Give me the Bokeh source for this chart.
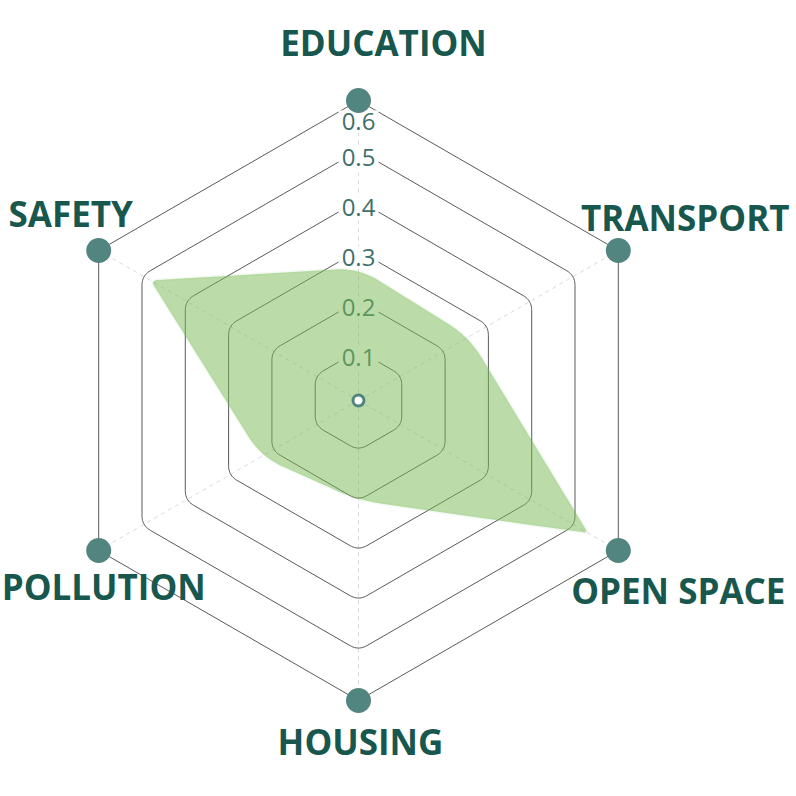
import numpy as np
from bokeh.plotting import figure
from bokeh.models import Range1d
from bokeh.embed import file_html
from bokeh.resources import INLINE
from bokeh.core.properties import value

# ---------------- data ----------------
categories = ["EDUCATION", "TRANSPORT", "OPEN SPACE", "HOUSING", "POLLUTION", "SAFETY"]
scores = [0.265, 0.255, 0.53, 0.20, 0.225, 0.48]
ring_levels = [0.1, 0.2, 0.3, 0.4, 0.5, 0.6]
tick_labels = ["0.1", "0.2", "0.3", "0.4", "0.5", "0.6"]

# ---------------- layout / style ----------------
R_MAX = 0.6
PX = 500.0          # screen pixels per data unit
W = H = 796
CX, CY = 358, 400   # centre of the radar in figure pixels
label_nudge_px = [(25, 58), (67, 33), (60, -40), (2, -41), (5, -36), (-28, 37)]

TEAL_DARK = "#18574e"
TEAL_TICK = "#3f716a"
DOT = "#538580"
GREEN = "#77b954"

angles = np.deg2rad(90 - 60 * np.arange(len(categories)))
cosA, sinA = np.cos(angles), np.sin(angles)


def rounded_closed(xs, ys, base, n=12):
    """Closed polygon with softened (quadratic) corners."""
    pts = np.column_stack([xs, ys])
    m = len(pts)
    out = []
    for i in range(m):
        v, a, b = pts[i], pts[i - 1], pts[(i + 1) % m]
        la, lb = np.linalg.norm(a - v), np.linalg.norm(b - v)
        ua, ub = (a - v) / la, (b - v) / lb
        half = np.arccos(np.clip(np.dot(ua, ub), -1, 1)) / 2
        d = min(base * np.sin(half) ** 2, 0.45 * la, 0.45 * lb)
        p1, p2 = v + ua * d, v + ub * d
        t = np.linspace(0, 1, n)[:, None]
        out.append((1 - t) ** 2 * p1 + 2 * (1 - t) * t * v + t ** 2 * p2)
    out = np.vstack(out)
    return list(out[:, 0]), list(out[:, 1])


p = figure(width=W, height=H, output_backend="svg", toolbar_location=None,
           x_range=Range1d(-CX / PX, (W - CX) / PX),
           y_range=Range1d(-(H - CY) / PX, CY / PX),
           min_border=0, background_fill_color="white", border_fill_color="white")
p.axis.visible = False
p.grid.visible = False
p.outline_line_color = None

# spokes
p.segment(x0=[0] * 6, y0=[0] * 6, x1=list(R_MAX * cosA), y1=list(R_MAX * sinA),
          line_color="#d9d9d9", line_width=1, line_dash="4 4")

# rings (rounded hexagons)
for lvl in ring_levels:
    rx, ry = rounded_closed(lvl * cosA, lvl * sinA, 13 / PX)
    p.line(rx + [rx[0]], ry + [ry[0]], line_color="#5a5a5a", line_width=1)

# tick labels with white boxes
tick_off = [(21 if lvl == R_MAX else 7) / PX for lvl in ring_levels]
ty = [lvl - o for lvl, o in zip(ring_levels, tick_off)]
p.rect(x=[0] * len(ty), y=ty, width=40, height=22, width_units="screen",
       height_units="screen", fill_color="white", line_color=None)
p.text(x=[0] * len(ty), y=ty, text=tick_labels, text_font=value("Open Sans"),
       text_font_size="24px", text_color=TEAL_TICK, text_align="center",
       text_baseline="middle")

# data area
dx, dy = rounded_closed(np.array(scores) * cosA, np.array(scores) * sinA, 26 / PX)
p.patch(dx, dy, fill_color=GREEN, fill_alpha=0.5, line_color=GREEN,
        line_alpha=0.08, line_width=3)

# axis end dots
p.scatter(x=list(R_MAX * cosA), y=list(R_MAX * sinA), size=25,
          fill_color=DOT, line_color=None)
# centre dot
p.scatter(x=[0], y=[0], size=11, fill_color="white", line_color=DOT, line_width=3)

# category labels
lx = [R_MAX * c + n[0] / PX for c, n in zip(cosA, label_nudge_px)]
ly = [R_MAX * s + n[1] / PX for s, n in zip(sinA, label_nudge_px)]
p.text(x=lx, y=ly, text=categories, text_font=value("Open Sans"),
       text_font_size="35px", text_font_style="bold", text_color=TEAL_DARK,
       text_align="center", text_baseline="middle")

open("out.html", "w").write(file_html(p, INLINE))
